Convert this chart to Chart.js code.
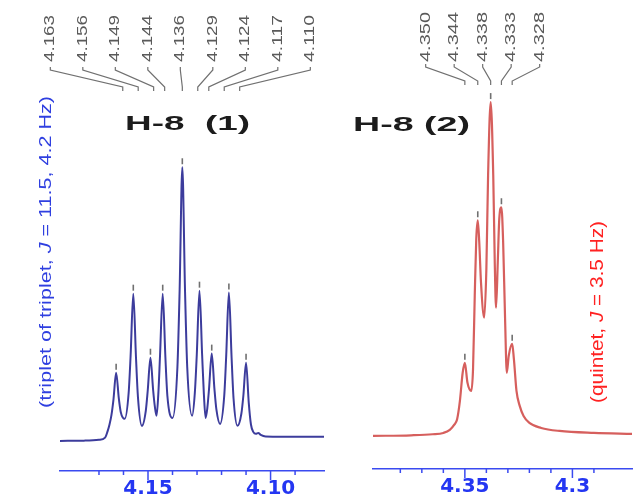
<!DOCTYPE html>
<html>
<head>
<meta charset="utf-8">
<script src="https://cdn.jsdelivr.net/npm/chart.js@4.4.1/dist/chart.umd.min.js"></script>
<style>
  html, body { margin: 0; padding: 0; background: #fff; }
  #wrap { position: relative; width: 638px; height: 502px; overflow: hidden; }
  canvas { position: absolute; top: 0; }
  #c1 { left: 0; }
  #c2 { left: 330px; }
</style>
</head>
<body>
<div id="wrap">
  <canvas id="c1" width="330" height="509"></canvas>
  <canvas id="c2" width="308" height="509"></canvas>
</div>
<script>
// H-8 (1): triplet of triplet
const h1Ppm = [4.186, 4.176, 4.170, 4.1675, 4.1665, 4.1657,
  4.1649, 4.1641, 4.1630, 4.1619, 4.1611, 4.1595,
  4.1579, 4.1571, 4.1560, 4.1549, 4.1541, 4.1525,
  4.1509, 4.1501, 4.1490, 4.1479, 4.1472, 4.1465,
  4.1458, 4.1451, 4.1440, 4.1429, 4.1421, 4.1400,
  4.1380, 4.1371, 4.1360, 4.1349, 4.1340, 4.1320,
  4.1309, 4.1301, 4.1290, 4.1279, 4.1272, 4.1265,
  4.1258, 4.1251, 4.1240, 4.1229, 4.1221, 4.1206,
  4.1189, 4.1181, 4.1170, 4.1159, 4.1151, 4.1135,
  4.1119, 4.1111, 4.1100, 4.1089, 4.1080, 4.1070, 4.1060, 4.1050, 4.1040, 4.1020, 4.0950, 4.0782];
const h1Int = [0.0, 0.1, 0.4, 1.2, 3.5, 6.0,
  9.5, 15.0, 24.9, 15.5, 10.5, 8.1,
  17.5, 31.0, 53.8, 30.5, 16.0, 5.5,
  11.0, 18.5, 30.4, 18.5, 12.5, 9.2,
  17.0, 31.0, 53.8, 30.5, 16.5, 8.4,
  27.0, 55.0, 100, 55.0, 27.0, 9.2,
  17.5, 31.5, 54.9, 31.0, 17.0, 8.4,
  12.0, 19.0, 31.9, 19.0, 11.5, 6.2,
  16.5, 31.0, 54.2, 30.5, 15.5, 5.5,
  10.0, 16.5, 28.6, 14.0, 6.0, 3.2, 2.6, 2.9, 2.2, 1.6, 1.5, 1.5];
const h1Peaks = [4.163, 4.156, 4.149, 4.144, 4.136, 4.129, 4.124, 4.117, 4.110];
const h1PeakInt = [24.9, 53.8, 30.4, 53.8, 100, 54.9, 31.9, 54.2, 28.6];
const h1Ticks = ["4.15", "4.10"];

// H-8 (2): quintet
const h2Ppm = [4.393, 4.375, 4.365, 4.360, 4.3570, 4.3550, 4.3536, 4.3523, 4.3510, 4.3500, 4.3488,
  4.3470, 4.3462, 4.3454, 4.3447, 4.3440, 4.3433, 4.3425, 4.3410, 4.3400, 4.3392, 4.3380,
  4.3368, 4.3361, 4.3355, 4.3347, 4.3340, 4.3330, 4.3322, 4.3313, 4.3305, 4.3296, 4.3280,
  4.3272, 4.3260, 4.3245, 4.3227, 4.3200, 4.3145, 4.3060, 4.2900, 4.2720];
const h2Int = [0.0, 0.2, 0.5, 0.9, 1.8, 3.3, 5.0, 10.5, 19.0, 21.9, 16.0,
  13.5, 20.0, 42.0, 59.0, 64.6, 58.0, 46.0, 35.4, 50.0, 78.0, 100,
  78.0, 52.0, 38.4, 52.0, 65.0, 68.5, 58.0, 35.0, 18.9, 24.0, 27.6,
  23.0, 13.5, 9.0, 6.0, 3.9, 2.4, 1.5, 0.9, 0.6];
const h2Peaks = [4.350, 4.344, 4.338, 4.333, 4.328];
const h2PeakInt = [21.9, 64.6, 100, 68.5, 27.6];
const h2Ticks = ["4.35", "4.3"];

const axisBlue = "#3a4af0";

function onStep(v, per) {
  return Math.abs(v * per - Math.round(v * per)) < 1e-6;
}

// text squeezed/stretched to a given length, centred on (x, y)
function stretchText(ctx, parts, x, y, angle, width, color) {
  ctx.save();
  let total = 0;
  parts.forEach(p => { ctx.font = p.font; p.w = ctx.measureText(p.t).width; total += p.w; });
  ctx.translate(x, y);
  ctx.rotate(angle);
  ctx.scale(width / total, 1);
  ctx.fillStyle = color;
  ctx.textBaseline = "middle";
  ctx.textAlign = "left";
  let cx = -total / 2;
  parts.forEach(p => { ctx.font = p.font; ctx.fillText(p.t, cx, 0); cx += p.w; });
  ctx.restore();
}

const peakPlugin = {
  id: "peakLabels",
  afterDraw(chart, args, o) {
    const ctx = chart.ctx;
    const xs = chart.scales.x, ys = chart.scales.y;

    // axis tick marks: minor every 0.01, major every 0.05
    ctx.save();
    ctx.strokeStyle = axisBlue;
    ctx.lineWidth = 1.5;
    xs.ticks.forEach(t => {
      if (!onStep(t.value, 100)) return;
      const px = xs.getPixelForValue(t.value);
      const len = onStep(t.value, 20) ? 9 : 4;
      ctx.beginPath();
      ctx.moveTo(px, xs.top);
      ctx.lineTo(px, xs.top + len);
      ctx.stroke();
    });
    ctx.restore();

    // peak markers, connectors and peak labels
    const n = o.peaks.length;
    const mid = xs.getPixelForValue(o.peaks[Math.floor(n / 2)]);
    ctx.save();
    ctx.strokeStyle = "#707070";
    o.peaks.forEach((p, i) => {
      const px = xs.getPixelForValue(p);
      const py = ys.getPixelForValue(o.heights[i]);
      ctx.lineWidth = 1.6;
      ctx.beginPath();
      ctx.moveTo(px, py - 9);
      ctx.lineTo(px, py - 3);
      ctx.stroke();

      const lx = mid + o.labelShift + (i - (n - 1) / 2) * o.labelGap;
      const bx = mid + (px - mid) * o.squeeze;
      ctx.lineWidth = 1.2;
      ctx.beginPath();
      ctx.moveTo(lx, o.lineTop);
      ctx.lineTo(lx, o.lineTop + 3);
      ctx.lineTo(bx, o.lineBottom - 4);
      ctx.lineTo(bx, o.lineBottom);
      ctx.stroke();

      stretchText(ctx, [{ t: p.toFixed(3), font: "14px 'Liberation Sans'" }],
        lx, (o.labelTop + o.labelBottom) / 2, -Math.PI / 2, o.labelBottom - o.labelTop, "#5a5a5a");
    });
    ctx.restore();

    o.texts.forEach(t => stretchText(ctx, t.parts, t.x, t.y, t.angle, t.width, t.color));
  }
};

function makeChart(id, cfg) {
  return new Chart(document.getElementById(id), {
    type: "line",
    data: {
      datasets: [{
        data: cfg.ppm.map((x, i) => ({ x, y: cfg.int[i] })),
        borderColor: cfg.color,
        borderWidth: cfg.lineWidth,
        pointRadius: 0,
        cubicInterpolationMode: "monotone",
        fill: false
      }]
    },
    options: {
      responsive: false,
      animation: false,
      layout: { padding: cfg.padding },
      plugins: {
        legend: { display: false },
        tooltip: { enabled: false },
        peakLabels: cfg.labels
      },
      scales: {
        x: {
          type: "linear",
          reverse: true,
          min: cfg.xMin,
          max: cfg.xMax,
          grid: { display: false, drawTicks: false },
          border: { display: true, color: axisBlue, width: 1.5 },
          ticks: {
            stepSize: 0.01,
            autoSkip: false,
            maxRotation: 0,
            padding: 6,
            color: "#2436f2",
            font: { family: "'DejaVu Sans'", weight: "bold", size: 20 },
            callback: v => {
              if (!onStep(v, 20)) return "";
              return cfg.tickText.find(s => Math.abs(parseFloat(s) - v) < 1e-6) || "";
            }
          }
        },
        y: { display: false, min: cfg.yMin, max: cfg.yMax }
      }
    },
    plugins: [peakPlugin]
  });
}

makeChart("c1", {
  ppm: h1Ppm, int: h1Int, color: "#3c3c9c", lineWidth: 2,
  xMin: 4.0782, xMax: 4.1859, yMin: -11.0, yMax: 139.2,
  tickText: h1Ticks,
  padding: { left: 60, right: 3, top: 60, bottom: 2 },
  labels: {
    peaks: h1Peaks, heights: h1PeakInt,
    labelGap: 32.5, labelShift: -2, squeeze: 0.9,
    labelTop: 15, labelBottom: 62, lineTop: 67, lineBottom: 91,
    texts: [
      { parts: [{ t: "H-8  (1)", font: "bold 21px 'Liberation Sans'" }], x: 187.5, y: 124, angle: 0, width: 125, color: "#1c1c1c" },
      { parts: [
          { t: "(triplet of triplet, ", font: "17px 'Liberation Sans'" },
          { t: "J", font: "italic 17px 'Liberation Sans'" },
          { t: " = 11.5, 4.2 Hz)", font: "17px 'Liberation Sans'" }
        ], x: 46, y: 252, angle: -Math.PI / 2, width: 312, color: "#2f3fe0" }
    ]
  }
});

makeChart("c2", {
  ppm: h2Ppm, int: h2Int, color: "#d65f5d", lineWidth: 2.2,
  xMin: 4.2723, xMax: 4.3927, yMin: -9.9, yMax: 112.6,
  tickText: h2Ticks,
  padding: { left: 43, right: 0, top: 60, bottom: 4 },
  labels: {
    peaks: h2Peaks, heights: h2PeakInt,
    labelGap: 28.5, labelShift: -8, squeeze: 1.0,
    labelTop: 12, labelBottom: 62, lineTop: 64, lineBottom: 85,
    texts: [
      { parts: [{ t: "H-8 (2)", font: "bold 21px 'Liberation Sans'" }], x: 81.5, y: 125, angle: 0, width: 117, color: "#1c1c1c" },
      { parts: [
          { t: "(quintet, ", font: "18px 'Liberation Sans'" },
          { t: "J", font: "italic 18px 'Liberation Sans'" },
          { t: " = 3.5 Hz)", font: "18px 'Liberation Sans'" }
        ], x: 268, y: 312, angle: -Math.PI / 2, width: 182, color: "#ff2222" }
    ]
  }
});
</script>
</body>
</html>
